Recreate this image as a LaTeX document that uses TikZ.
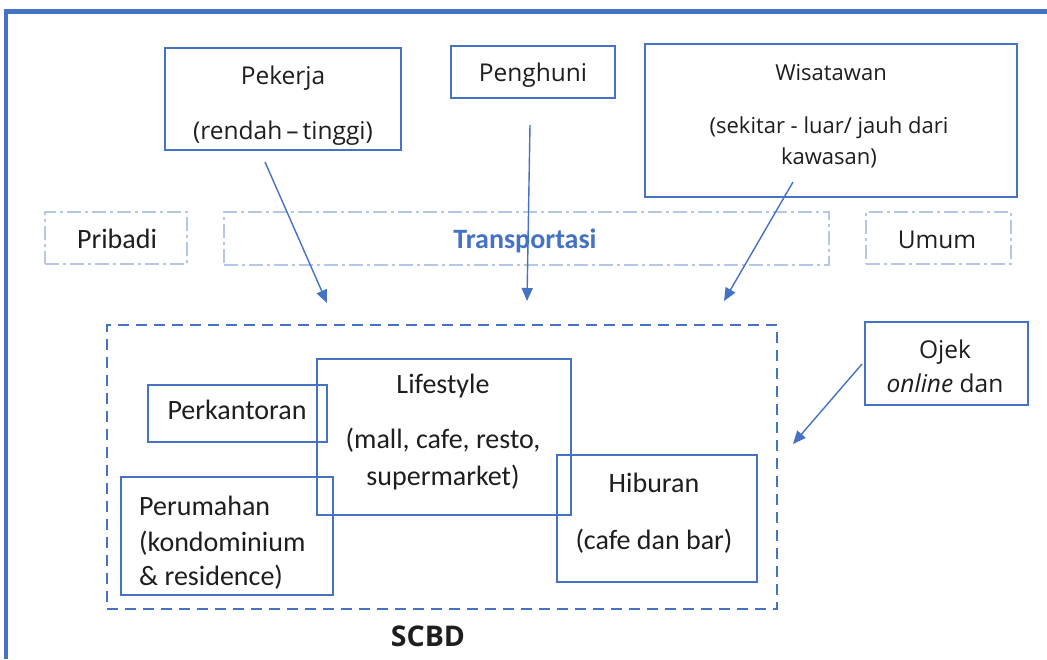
\documentclass[tikz,border=0pt]{standalone}
\usepackage{fontspec}
\setmainfont{Carlito}
\newfontfamily\segfont{Open Sans}
\usetikzlibrary{arrows.meta}
\definecolor{bl}{HTML}{4472C4}
\definecolor{lbl}{HTML}{B4C7E7}
\definecolor{txt}{HTML}{1E1E1E}
\begin{document}
\begin{tikzpicture}[x=1pt,y=-1pt,
 box/.style={draw=bl, line width=1.4pt, inner sep=0},
 dd/.style={draw=lbl, line width=1.4pt, dash pattern=on 14pt off 4pt on 3pt off 4pt, inner sep=0},
 arr/.style={draw=bl, line width=1.4pt, -{Triangle[length=13pt,width=11pt]}},
 cal/.style={font=\fontsize{28}{32}\selectfont, text=txt, inner sep=0, anchor=base},
 seg/.style={font=\segfont\fontsize{24.5}{29}\selectfont, text=txt, inner sep=0, anchor=base},
 segs/.style={font=\segfont\fontsize{22}{26}\selectfont, text=txt, inner sep=0, anchor=base},
]
\useasboundingbox (0,0) rectangle (1047,659);
\fill[white] (0,0) rectangle (1047,659);
% frame
\draw[bl, line width=4.5pt] (6,659) -- (6,11.5) -- (1047,11.5);

% top boxes
\node[box, minimum width=236pt, minimum height=102pt] (pek) at (283,99) {};
\node[box, minimum width=164pt, minimum height=52pt] (pen) at (533,72) {};
\node[box, minimum width=372pt, minimum height=153pt] (wis) at (831,120.5) {};
\node[seg] (pekt) at (283,84) {Pekerja};
\node[seg] (pekt2) at (283,139) {(rendah\,\char"2013\,tinggi)};
\node[seg] (pent) at (533,81) {Penghuni};
\node[segs] (wist) at (831,80) {Wisatawan};
\node[segs] (wist2) at (829,133) {(sekitar - luar/ jauh dari};
\node[segs] (wist3) at (829,164) {kawasan)};

% transport row
\node[dd, minimum width=142pt, minimum height=52pt] (pri) at (116,238) {};
\node[dd, minimum width=605pt, minimum height=53pt] (tra) at (526.5,238.5) {};
\node[dd, minimum width=145pt, minimum height=52pt] (umu) at (938.5,238) {};
\node[cal] (prit) at (117,248) {Pribadi};
\node[cal, font=\bfseries\fontsize{28}{32}\selectfont, text=bl] (trat) at (525,248) {Transportasi};
\node[seg] (umut) at (937,248) {Umum};

% SCBD
\node[draw=bl, line width=2.6pt, dash pattern=on 11pt off 7pt, minimum width=670pt, minimum height=284pt, inner sep=0] (scbd) at (442,467) {};
\node[box, minimum width=179pt, minimum height=57pt] (kan) at (237.5,413.5) {};
\node[box, minimum width=254pt, minimum height=156pt] (lif) at (444,437) {};
\node[box, minimum width=212pt, minimum height=118pt] (rum) at (227,536) {};
\node[box, minimum width=200pt, minimum height=127pt] (hib) at (657,518.5) {};
\node[cal] (kant) at (237,419) {Perkantoran};
\node[cal] (lift) at (443,393) {Lifestyle};
\node[cal] (lift2) at (443,448) {(mall, cafe, resto,};
\node[cal] (lift3) at (443,485) {supermarket)};
\node[cal, anchor=base west] (rumt) at (139,515) {Perumahan};
\node[cal, anchor=base west] (rumt2) at (139,551) {(kondominium};
\node[cal, anchor=base west] (rumt3) at (139,585) {\&~residence)};
\node[cal] (hibt) at (654,492) {Hiburan};
\node[cal] (hibt2) at (654,549) {(cafe dan bar)};
\node[seg, font=\segfont\bfseries\fontsize{28.5}{33}\selectfont] (scbdt) at (428,646) {SCBD};

% ojek
\node[box, minimum width=163pt, minimum height=83pt] (oje) at (946.5,363.5) {};
\node[seg] (ojet) at (945,358) {Ojek};
\node[seg] (ojet2) at (945,392) {\textit{online} dan};

% arrows
\coordinate (a1s) at (265,162); \coordinate (a1e) at (327,303);
\coordinate (a2s) at (530,125); \coordinate (a2e) at (527,301);
\coordinate (a3s) at (793,182); \coordinate (a3e) at (724,301);
\coordinate (a4s) at (862,364); \coordinate (a4e) at (793,444);
\draw[arr] (a1s) -- (a1e);
\draw[arr] (a2s) -- (a2e);
\draw[arr] (a3s) -- (a3e);
\draw[arr] (a4s) -- (a4e);
\end{tikzpicture}
\end{document}
